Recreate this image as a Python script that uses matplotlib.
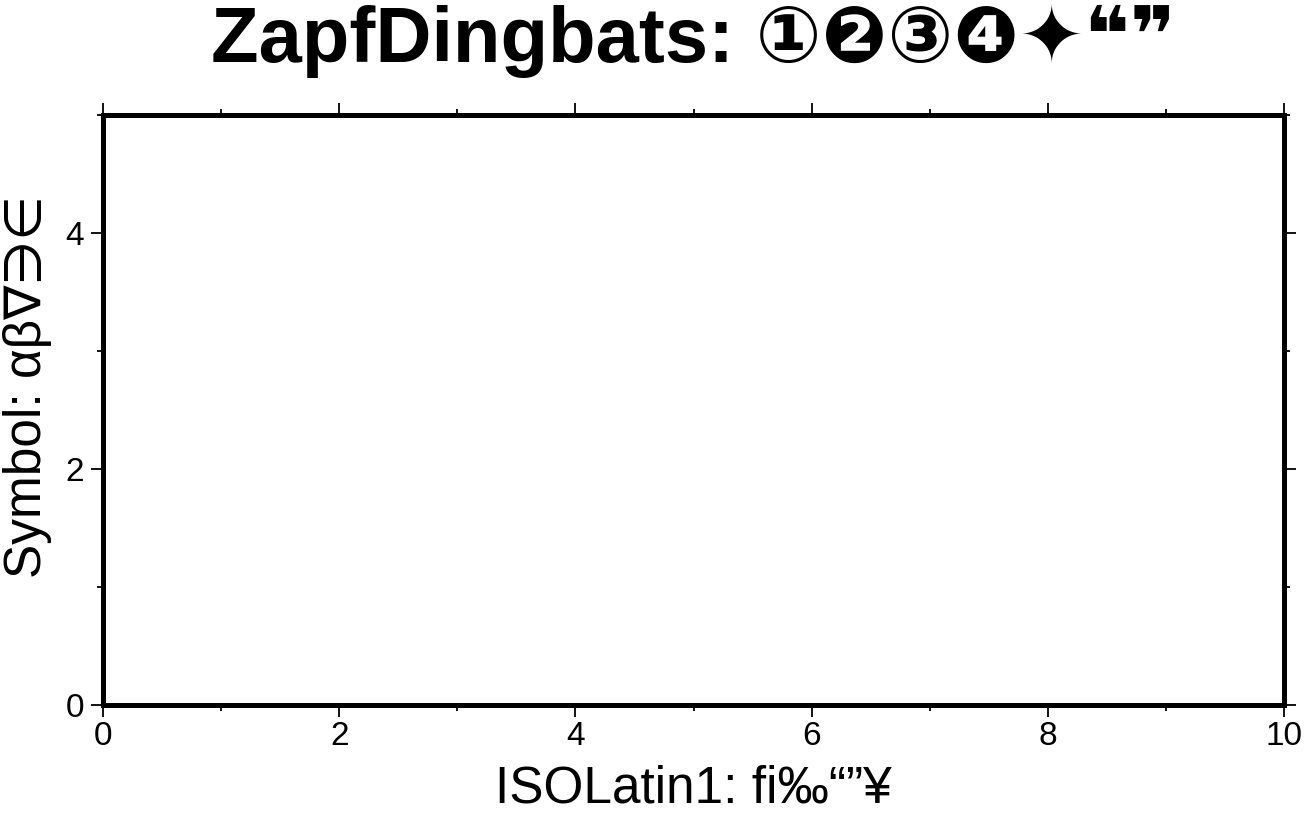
import numpy as np
import matplotlib
matplotlib.use('Agg')
import matplotlib.pyplot as plt
from matplotlib.ticker import MultipleLocator

# axis ranges and tick steps (GMT-like frame)
x_range = [0, 10]
y_range = [0, 5]
x_major, x_minor = 2, 1
y_major, y_minor = 2, 1

title_txt = 'ZapfDingbats: \u2460\u2777\u2462\u2779\u2726\u275d\u275e'
xlabel_txt = 'ISOLatin1: \ufb01\u2030\u201c\u201d\u00a5'
ylabel_txt = 'Symbol: \u03b1\u03b2\u2207\u220b\u2208'

fams = ['Liberation Sans', 'DejaVu Sans']
plt.rcParams['font.family'] = fams

W, H = 1304, 816
fig = plt.figure(figsize=(W/100, H/100), dpi=100)
# frame in pixel coords: left 103, right 1284, top 115, bottom 705
ax = fig.add_axes([103/W, (H-705)/H, (1284-103)/W, (705-115)/H])
ax.set_xlim(*x_range)
ax.set_ylim(*y_range)
ax.xaxis.set_major_locator(MultipleLocator(x_major))
ax.xaxis.set_minor_locator(MultipleLocator(x_minor))
ax.yaxis.set_major_locator(MultipleLocator(y_major))
ax.yaxis.set_minor_locator(MultipleLocator(y_minor))

for s in ax.spines.values():
    s.set_linewidth(3.6)
    s.set_capstyle('projecting')

ax.tick_params(which='both', direction='out', top=True, right=True,
               labeltop=False, labelright=False, color='black')
ax.tick_params(which='major', length=8.6, width=1.3, labelsize=24, pad=3)
ax.tick_params(which='minor', length=4.3, width=1.3)
ax.tick_params(axis='y', which='major', pad=5)

ax.set_xlabel(xlabel_txt, fontsize=37, labelpad=9)
ax.set_ylabel(ylabel_txt, fontsize=37)
ax.yaxis.set_label_coords(-0.043, 0.54)

fig.text((103+1284)/2/W, 1-62/H, title_txt, ha='center', va='baseline',
         fontsize=56, fontweight='bold', family=fams)

fig.savefig('out.png', dpi=100)
